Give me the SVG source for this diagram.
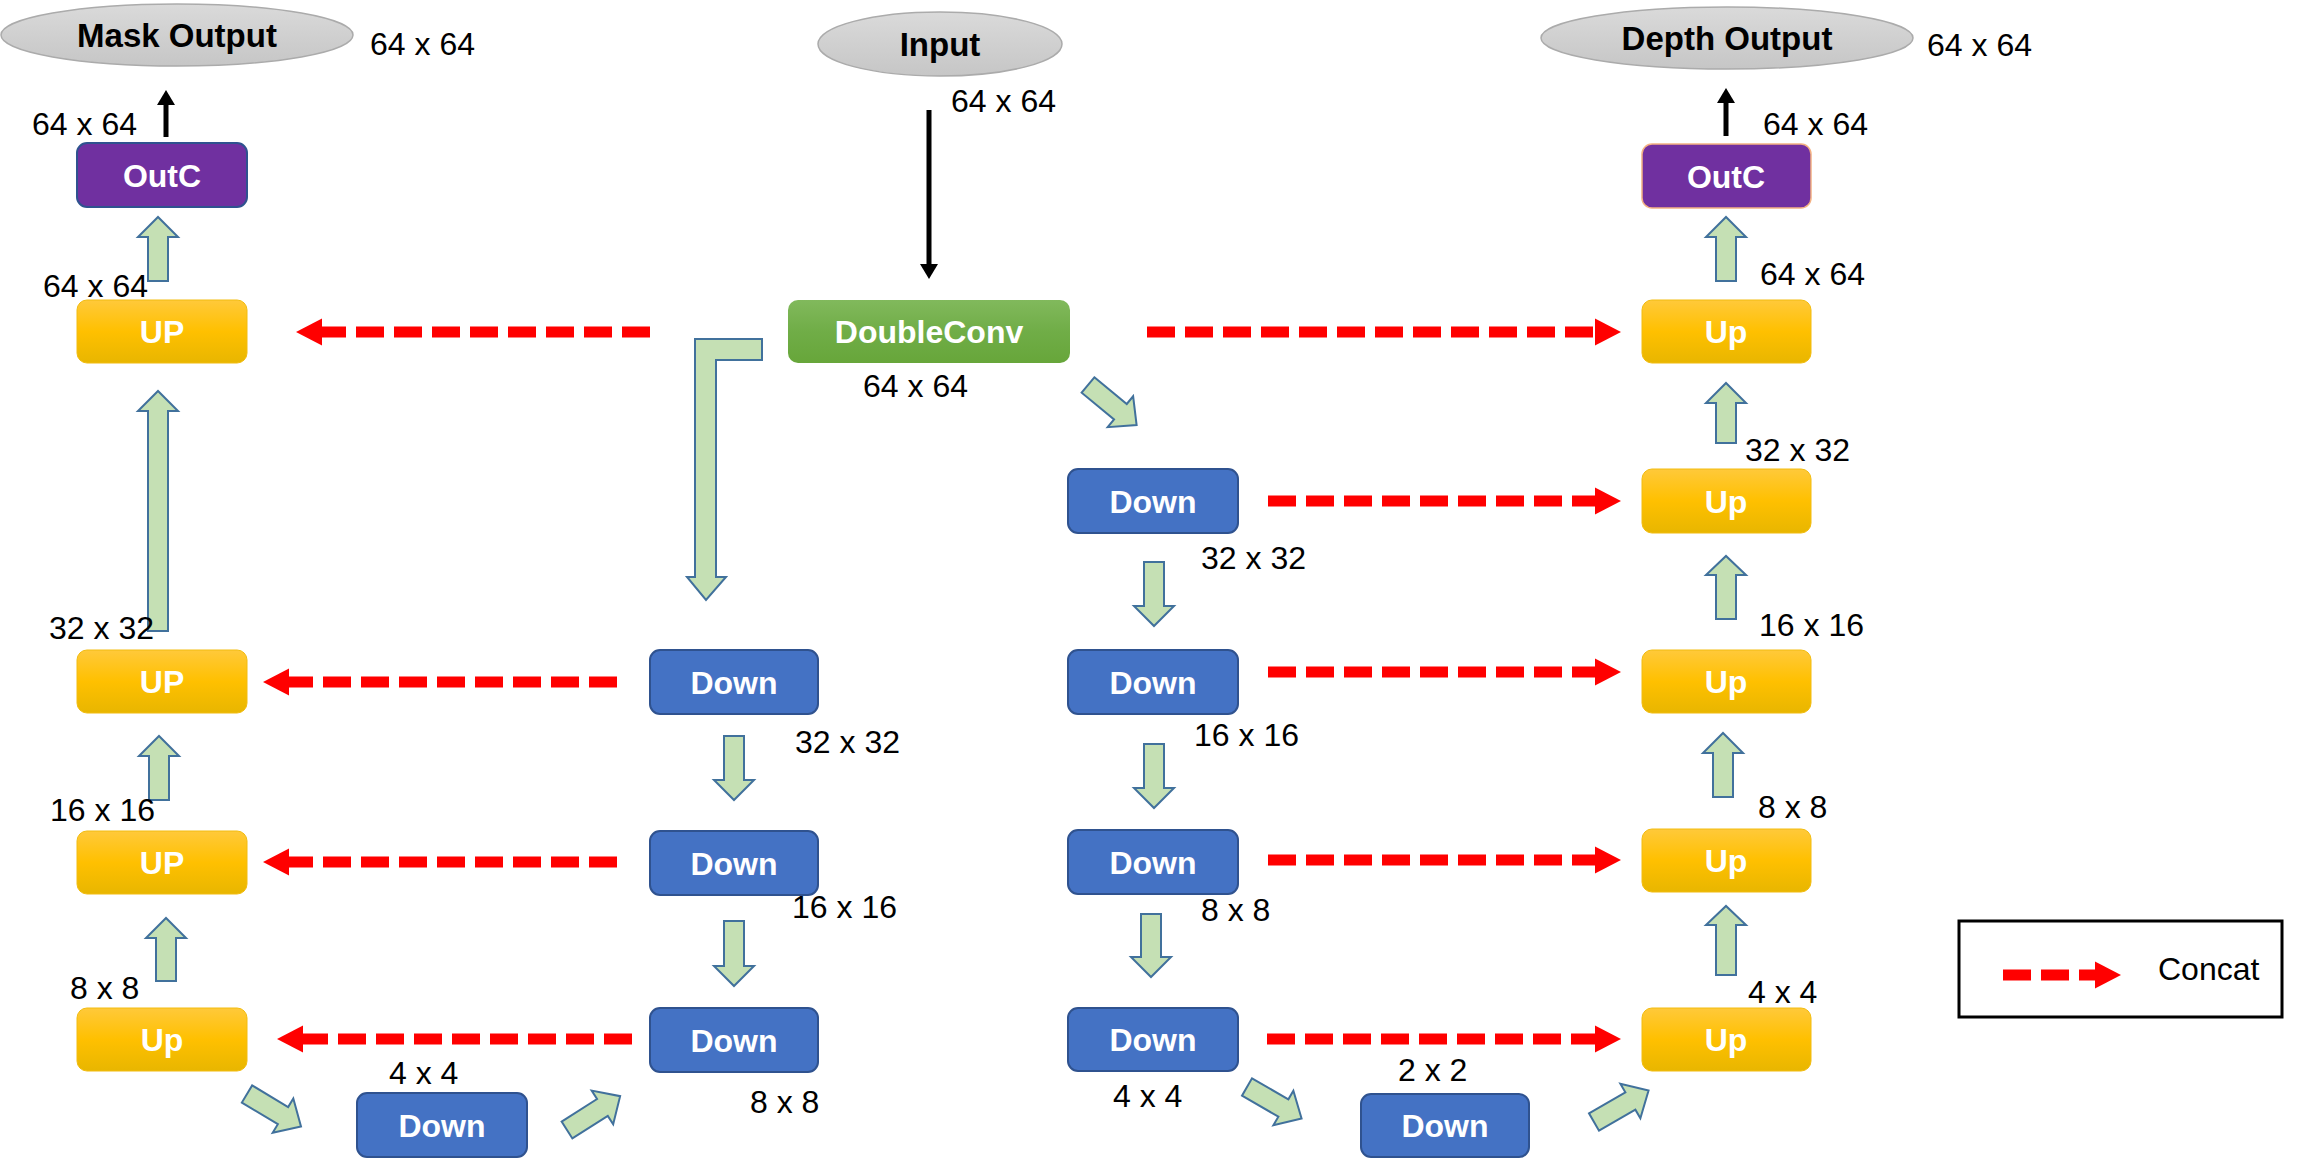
<svg xmlns="http://www.w3.org/2000/svg" width="2311" height="1171" viewBox="0 0 2311 1171">
<defs>
<linearGradient id="gY" x1="0" y1="0" x2="0" y2="1">
<stop offset="0" stop-color="#FFC93A"/><stop offset="0.5" stop-color="#FFC000"/><stop offset="1" stop-color="#E8B600"/>
</linearGradient>
<linearGradient id="gG" x1="0" y1="0" x2="0" y2="1">
<stop offset="0" stop-color="#81B95C"/><stop offset="0.5" stop-color="#70AD47"/><stop offset="1" stop-color="#67A63A"/>
</linearGradient>
<linearGradient id="gE" x1="0" y1="0" x2="0" y2="1">
<stop offset="0" stop-color="#DADADA"/><stop offset="1" stop-color="#C6C6C6"/>
</linearGradient>
<marker id="rh" markerUnits="userSpaceOnUse" markerWidth="28" markerHeight="28" viewBox="0 0 28 28" refX="0" refY="14" orient="auto">
<path d="M0,0.5 L26,14 L0,27.5 Z" fill="#FF0000"/>
</marker>
<marker id="bh" markerUnits="userSpaceOnUse" markerWidth="16" markerHeight="20" viewBox="0 0 16 20" refX="0" refY="10" orient="auto">
<path d="M0,1 L15,10 L0,19 Z" fill="#000000"/>
</marker>
<path id="diag" d="M0,-10 L42,-10 L42,-20 L63,0 L42,20 L42,10 L0,10 Z"/>
</defs>
<style>
.lbl{font-family:"Liberation Sans",Arial,sans-serif;font-weight:bold;font-size:32px;fill:#FFFFFF;text-anchor:middle}
.ell{font-family:"Liberation Sans",Arial,sans-serif;font-weight:bold;font-size:33px;fill:#000000;text-anchor:middle}
.dim{font-family:"Liberation Sans",Arial,sans-serif;font-size:32px;fill:#000000}
.up{fill:url(#gY);stroke:#F2BC10;stroke-width:1}
.down{fill:#4472C4;stroke:#2F528F;stroke-width:2}
.outc{fill:#7030A0}
.elp{fill:url(#gE);stroke:#ABABAB;stroke-width:1.5}
.blk{fill:#C5E0B4;stroke:#41719C;stroke-width:2;stroke-linejoin:miter}
.cat{stroke:#FF0000;stroke-width:11;stroke-dasharray:28 10;fill:none;marker-end:url(#rh)}
.blkline{stroke:#000000;stroke-width:5;fill:none;marker-end:url(#bh)}
</style>
<rect width="2311" height="1171" fill="#FFFFFF"/>

<!-- Nodes: left decoder (mask) -->
<g id="mask-output"><ellipse class="elp" cx="177" cy="35" rx="176" ry="31"/><text class="ell" x="177" y="47">Mask Output</text></g>
<g id="outc-left"><rect class="outc" x="77" y="143" width="170" height="64" rx="10" stroke="#2F528F" stroke-width="2"/><text class="lbl" x="162" y="187">OutC</text></g>
<g id="up-l1"><rect class="up" x="77" y="300" width="170" height="63" rx="10"/><text class="lbl" x="162" y="343">UP</text></g>
<g id="up-l3"><rect class="up" x="77" y="650" width="170" height="63" rx="10"/><text class="lbl" x="162" y="693">UP</text></g>
<g id="up-l4"><rect class="up" x="77" y="831" width="170" height="63" rx="10"/><text class="lbl" x="162" y="874">UP</text></g>
<g id="up-l5"><rect class="up" x="77" y="1008" width="170" height="63" rx="10"/><text class="lbl" x="162" y="1051">Up</text></g>
<g id="down-l6"><rect class="down" x="357" y="1093" width="170" height="64" rx="10"/><text class="lbl" x="442" y="1137">Down</text></g>

<!-- Nodes: left encoder -->
<g id="down-l3"><rect class="down" x="650" y="650" width="168" height="64" rx="10"/><text class="lbl" x="734" y="694">Down</text></g>
<g id="down-l4"><rect class="down" x="650" y="831" width="168" height="64" rx="10"/><text class="lbl" x="734" y="875">Down</text></g>
<g id="down-l5"><rect class="down" x="650" y="1008" width="168" height="64" rx="10"/><text class="lbl" x="734" y="1052">Down</text></g>

<!-- Nodes: center -->
<g id="input"><ellipse class="elp" cx="940" cy="44" rx="122" ry="32"/><text class="ell" x="940" y="56">Input</text></g>
<g id="doubleconv"><rect x="788" y="300" width="282" height="63" rx="10" fill="url(#gG)"/><text class="lbl" x="929" y="343">DoubleConv</text></g>

<!-- Nodes: right encoder -->
<g id="down-r2"><rect class="down" x="1068" y="469" width="170" height="64" rx="10"/><text class="lbl" x="1153" y="513">Down</text></g>
<g id="down-r3"><rect class="down" x="1068" y="650" width="170" height="64" rx="10"/><text class="lbl" x="1153" y="694">Down</text></g>
<g id="down-r4"><rect class="down" x="1068" y="830" width="170" height="64" rx="10"/><text class="lbl" x="1153" y="874">Down</text></g>
<g id="down-r5"><rect class="down" x="1068" y="1008" width="170" height="63" rx="10"/><text class="lbl" x="1153" y="1051">Down</text></g>
<g id="down-r6"><rect class="down" x="1361" y="1094" width="168" height="63" rx="10"/><text class="lbl" x="1445" y="1137">Down</text></g>

<!-- Nodes: right decoder (depth) -->
<g id="depth-output"><ellipse class="elp" cx="1727" cy="38" rx="186" ry="31"/><text class="ell" x="1727" y="50">Depth Output</text></g>
<g id="outc-right"><rect class="outc" x="1642" y="144" width="169" height="64" rx="10" stroke="#F4B183" stroke-width="1.5"/><text class="lbl" x="1726" y="188">OutC</text></g>
<g id="up-r1"><rect class="up" x="1642" y="300" width="169" height="63" rx="10"/><text class="lbl" x="1726" y="343">Up</text></g>
<g id="up-r2"><rect class="up" x="1642" y="469" width="169" height="64" rx="10"/><text class="lbl" x="1726" y="513">Up</text></g>
<g id="up-r3"><rect class="up" x="1642" y="650" width="169" height="63" rx="10"/><text class="lbl" x="1726" y="693">Up</text></g>
<g id="up-r4"><rect class="up" x="1642" y="829" width="169" height="63" rx="10"/><text class="lbl" x="1726" y="872">Up</text></g>
<g id="up-r5"><rect class="up" x="1642" y="1008" width="169" height="63" rx="10"/><text class="lbl" x="1726" y="1051">Up</text></g>

<!-- Legend -->
<g id="legend">
<rect x="1959" y="921" width="323" height="96" fill="none" stroke="#000000" stroke-width="3"/>
<line class="cat" x1="2003" y1="975" x2="2095" y2="975"/>
<text class="dim" x="2158" y="980">Concat</text>
</g>

<!-- Connectors -->
<g id="connectors">
<!-- black arrows -->
<line class="blkline" x1="166" y1="137" x2="166" y2="105"/>
<line class="blkline" x1="929" y1="110" x2="929" y2="264"/>
<line class="blkline" x1="1726" y1="136" x2="1726" y2="103"/>
<!-- concat arrows left -->
<line class="cat" x1="650" y1="332" x2="322" y2="332"/>
<line class="cat" x1="617" y1="682" x2="289" y2="682"/>
<line class="cat" x1="617" y1="862" x2="289" y2="862"/>
<line class="cat" x1="632" y1="1039" x2="303" y2="1039"/>
<!-- concat arrows right -->
<line class="cat" x1="1147" y1="332" x2="1595" y2="332"/>
<line class="cat" x1="1268" y1="501" x2="1595" y2="501"/>
<line class="cat" x1="1268" y1="672" x2="1595" y2="672"/>
<line class="cat" x1="1268" y1="860" x2="1595" y2="860"/>
<line class="cat" x1="1267" y1="1039" x2="1595" y2="1039"/>
<!-- green block arrows: left up -->
<path class="blk" d="M148,281 L148,237 L138,237 L158,217 L178,237 L168,237 L168,281 Z"/>
<path class="blk" d="M148,631 L148,411 L138,411 L158,391 L178,411 L168,411 L168,631 Z"/>
<path class="blk" d="M149,800 L149,756 L139,756 L159,736 L179,756 L169,756 L169,800 Z"/>
<path class="blk" d="M156,981 L156,938 L146,938 L166,918 L186,938 L176,938 L176,981 Z"/>
<!-- L-shaped arrow from DoubleConv -->
<path class="blk" d="M762,339 L695,339 L695,577 L687,577 L706,600 L726,577 L716,577 L716,360 L762,360 Z"/>
<!-- left encoder down -->
<path class="blk" d="M724,736 L724,780 L714,780 L734,800 L754,780 L744,780 L744,736 Z"/>
<path class="blk" d="M724,921 L724,966 L714,966 L734,986 L754,966 L744,966 L744,921 Z"/>
<!-- right encoder down -->
<path class="blk" d="M1144,562 L1144,606 L1134,606 L1154,626 L1174,606 L1164,606 L1164,562 Z"/>
<path class="blk" d="M1144,744 L1144,788 L1134,788 L1154,808 L1174,788 L1164,788 L1164,744 Z"/>
<path class="blk" d="M1141,914 L1141,957 L1131,957 L1151,977 L1171,957 L1161,957 L1161,914 Z"/>
<!-- right decoder up -->
<path class="blk" d="M1716,281 L1716,237 L1706,237 L1726,217 L1746,237 L1736,237 L1736,281 Z"/>
<path class="blk" d="M1716,443 L1716,403 L1706,403 L1726,383 L1746,403 L1736,403 L1736,443 Z"/>
<path class="blk" d="M1716,619 L1716,575 L1706,575 L1726,556 L1746,575 L1736,575 L1736,619 Z"/>
<path class="blk" d="M1713,797 L1713,753 L1703,753 L1723,733 L1743,753 L1733,753 L1733,797 Z"/>
<path class="blk" d="M1716,975 L1716,925 L1706,925 L1726,906 L1746,925 L1736,925 L1736,975 Z"/>
<!-- diagonal arrows -->
<use href="#diag" class="blk" transform="translate(1088,385) rotate(39.5)"/>
<use href="#diag" class="blk" transform="translate(247,1094) rotate(31)"/>
<use href="#diag" class="blk" transform="translate(567,1130) rotate(-32.5)"/>
<use href="#diag" class="blk" transform="translate(1247,1087) rotate(30)"/>
<use href="#diag" class="blk" transform="translate(1594,1122) rotate(-30)"/>
</g>

<!-- Dimension labels -->
<g id="dims">
<text class="dim" x="370" y="55">64 x 64</text>
<text class="dim" x="32" y="135">64 x 64</text>
<text class="dim" x="43" y="297">64 x 64</text>
<text class="dim" x="49" y="639">32 x 32</text>
<text class="dim" x="50" y="821">16 x 16</text>
<text class="dim" x="70" y="999">8 x 8</text>
<text class="dim" x="389" y="1084">4 x 4</text>
<text class="dim" x="795" y="753">32 x 32</text>
<text class="dim" x="792" y="918">16 x 16</text>
<text class="dim" x="750" y="1113">8 x 8</text>
<text class="dim" x="951" y="112">64 x 64</text>
<text class="dim" x="863" y="397">64 x 64</text>
<text class="dim" x="1201" y="569">32 x 32</text>
<text class="dim" x="1194" y="746">16 x 16</text>
<text class="dim" x="1201" y="921">8 x 8</text>
<text class="dim" x="1113" y="1107">4 x 4</text>
<text class="dim" x="1398" y="1081">2 x 2</text>
<text class="dim" x="1927" y="56">64 x 64</text>
<text class="dim" x="1763" y="135">64 x 64</text>
<text class="dim" x="1760" y="285">64 x 64</text>
<text class="dim" x="1745" y="461">32 x 32</text>
<text class="dim" x="1759" y="636">16 x 16</text>
<text class="dim" x="1758" y="818">8 x 8</text>
<text class="dim" x="1748" y="1003">4 x 4</text>
</g>
</svg>
